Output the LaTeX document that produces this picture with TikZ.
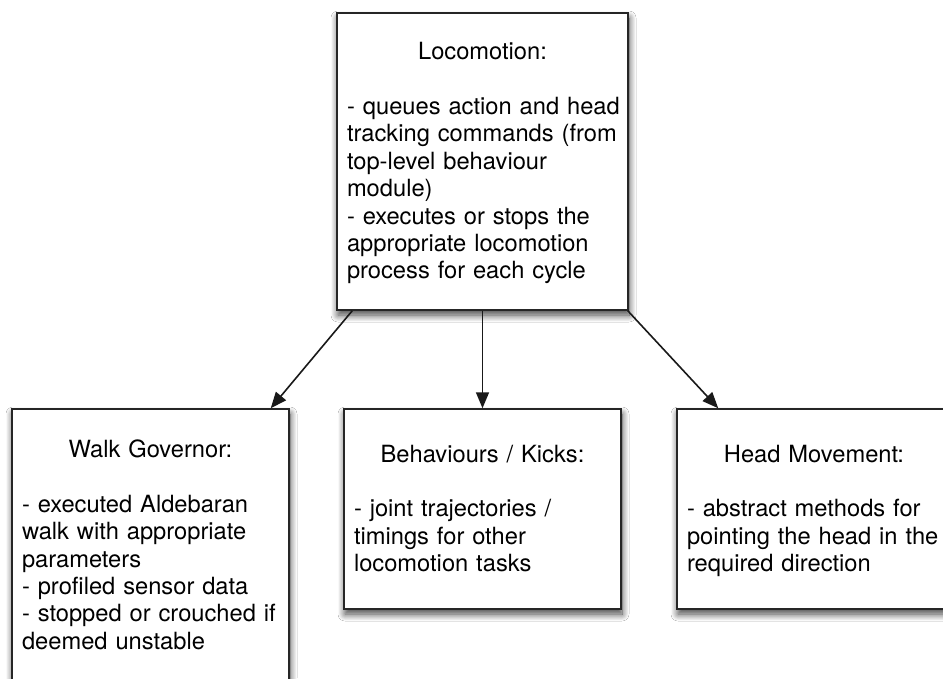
\documentclass[tikz,border=0pt]{standalone}
\usepackage{fontspec}
\setmainfont{TeX Gyre Heros}
\usetikzlibrary{arrows.meta,shadows.blur}

\tikzset{
  module/.style={draw=black!85, line width=1.5pt, fill=white, align=left,
    inner xsep=8pt, inner ysep=0pt,
    font=\fontsize{23.7}{27.4}\selectfont,
    blur shadow={shadow xshift=1pt, shadow yshift=-5pt,
      shadow blur radius=7pt, shadow blur steps=12, shadow opacity=75}},
  link/.style={line width=1.6pt, draw=black!90,
    -{Triangle[length=16pt,width=13pt]}}
}
% centred heading line inside a left-aligned module text
\newcommand{\modtitle}[1]{\makebox[\hsize]{\rule{0pt}{24pt}#1}}

\begin{document}
\begin{tikzpicture}[x=1pt,y=-1pt]
  \fill[white] (0,0) rectangle (943,678);
  \useasboundingbox (0,0) rectangle (943,678);

  \node[module, minimum width=291pt, minimum height=297pt, text width=275pt]
    (loco) at (482.5,161.5)
    {\modtitle{Locomotion:}\\[27.4pt]
     \hspace{2pt}- queues action and head\\
     \hspace{2pt}tracking commands (from\\
     \hspace{2pt}top-level behaviour\\
     \hspace{2pt}module)\\
     \hspace{2pt}- executes or stops the\\
     \hspace{2pt}appropriate locomotion\\
     \hspace{2pt}process for each cycle\strut};

  \node[module, minimum width=277pt, minimum height=273pt, text width=261pt]
    (walk) at (150.5,545.5)
    {\modtitle{Walk Governor:}\\[27.4pt]
     \hspace{2pt}- executed Aldebaran\\
     \hspace{2pt}walk with appropriate\\
     \hspace{2pt}parameters\\
     \hspace{2pt}- profiled sensor data\\
     \hspace{2pt}- stopped or crouched if\\
     \hspace{2pt}deemed unstable\strut};

  \node[module, minimum width=277pt, minimum height=200pt, text width=261pt]
    (kicks) at (482.5,509)
    {\modtitle{Behaviours / Kicks:}\\[27.4pt]
     \hspace{2pt}- joint trajectories /\\
     \hspace{2pt}timings for other\\
     \hspace{2pt}locomotion tasks\strut};

  \node[module, minimum width=274pt, minimum height=200pt, text width=258pt]
    (head) at (814,509)
    {\modtitle{Head Movement:}\\[27.4pt]
     \hspace{2pt}- abstract methods for\\
     \hspace{2pt}pointing the head in the\\
     \hspace{2pt}required direction\strut};

  \draw[link] ([xshift=16pt]loco.south west) -- ([xshift=-19pt]walk.north east);
  \draw[link] (loco.south) -- (kicks.north);
  \draw[link] ([xshift=-1pt]loco.south east) -- ([xshift=42pt]head.north west);
\end{tikzpicture}
\end{document}
